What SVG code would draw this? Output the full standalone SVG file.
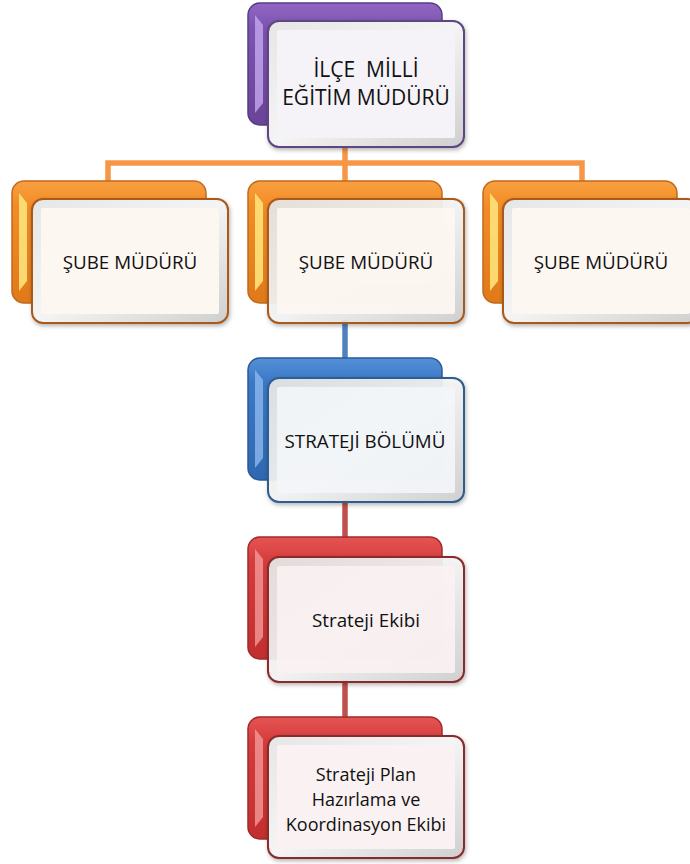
<svg xmlns="http://www.w3.org/2000/svg" width="690" height="864" viewBox="0 0 690 864">
<defs>
<style>
.lbl{font-family:"Open Sans","Liberation Sans",sans-serif;font-size:18.8px;fill:#111;text-anchor:middle;white-space:pre}
.big{font-size:21px}
.sm{font-size:18px}
.conn{fill:none;stroke-width:5.5;stroke-linejoin:miter}
.front-frame{fill:url(#gFrame);stroke-width:2}
.shadowed{filter:url(#sh)}
</style>
<filter id="sh" x="-10%" y="-10%" width="125%" height="130%">
<feDropShadow dx="1" dy="2" stdDeviation="2" flood-color="#000" flood-opacity="0.3"/>
</filter>
<linearGradient id="gFrame" x1="0" y1="0" x2="1" y2="1">
<stop offset="0" stop-color="#e6e6e6"/>
<stop offset="0.5" stop-color="#f4f4f4"/>
<stop offset="1" stop-color="#cfcfcf"/>
</linearGradient>
<linearGradient id="gPurple" x1="0" y1="0" x2="0" y2="1">
<stop offset="0" stop-color="#9068c2"/>
<stop offset="0.2" stop-color="#7c53b0"/>
<stop offset="1" stop-color="#6a4498"/>
</linearGradient>
<linearGradient id="gOrange" x1="0" y1="0" x2="0" y2="1">
<stop offset="0" stop-color="#f9a040"/>
<stop offset="0.2" stop-color="#f28c26"/>
<stop offset="1" stop-color="#e07a18"/>
</linearGradient>
<linearGradient id="gBlue" x1="0" y1="0" x2="0" y2="1">
<stop offset="0" stop-color="#5590d8"/>
<stop offset="0.2" stop-color="#3a78c6"/>
<stop offset="1" stop-color="#2f68b0"/>
</linearGradient>
<linearGradient id="gRed" x1="0" y1="0" x2="0" y2="1">
<stop offset="0" stop-color="#e55454"/>
<stop offset="0.2" stop-color="#d53c3c"/>
<stop offset="1" stop-color="#c22f2f"/>
</linearGradient>
</defs>

<g id="connectors">
<path class="conn" stroke="#f79646" d="M345,147 V163 M108,181 V163 H582 V181 M345,163 V181"/>
<path class="conn" stroke="#4f81bd" d="M345,320 V360"/>
<path class="conn" stroke="#c0504d" d="M345,500 V540 M345,680 V720"/>
</g>

<g id="n1" transform="translate(248,3)">
<rect x="0" y="0" width="194" height="122" rx="12" fill="url(#gPurple)" stroke="#5a3c86" stroke-width="1.5"/>
<polygon points="7,12 15,22 15,100 7,110" fill="#c4a8ee" opacity="0.8"/>
<g class="shadowed">
<rect class="front-frame" x="20" y="18" width="196" height="126" rx="11" stroke="#5e4482"/>
<rect x="29" y="27" width="178" height="108" rx="2" fill="#f5f3f8"/>
</g>
<text class="lbl big" x="118" y="74">İLÇE  MİLLİ</text>
<text class="lbl big" x="118" y="102">EĞİTİM MÜDÜRÜ</text>
</g>

<g id="n2" transform="translate(12,181)">
<rect x="0" y="0" width="194" height="122" rx="12" fill="url(#gOrange)" stroke="#c06a1e" stroke-width="1.5"/>
<polygon points="7,12 15,22 15,100 7,110" fill="#fde27a" opacity="0.9"/>
<g class="shadowed">
<rect class="front-frame" x="20" y="18" width="196" height="124" rx="11" stroke="#a85a1a"/>
<rect x="29" y="27" width="178" height="106" rx="2" fill="#fdf7f2"/>
</g>
<text class="lbl" x="118" y="88">ŞUBE MÜDÜRÜ</text>
</g>

<g id="n3" transform="translate(248,181)">
<rect x="0" y="0" width="194" height="122" rx="12" fill="url(#gOrange)" stroke="#c06a1e" stroke-width="1.5"/>
<polygon points="7,12 15,22 15,100 7,110" fill="#fde27a" opacity="0.9"/>
<g class="shadowed">
<rect class="front-frame" x="20" y="18" width="196" height="124" rx="11" stroke="#a85a1a" fill-opacity="0.92"/>
<rect x="29" y="27" width="178" height="106" rx="2" fill="#fdf7f2" fill-opacity="0.92"/>
</g>
<text class="lbl" x="118" y="88">ŞUBE MÜDÜRÜ</text>
</g>

<g id="n4" transform="translate(483,181)">
<rect x="0" y="0" width="194" height="122" rx="12" fill="url(#gOrange)" stroke="#c06a1e" stroke-width="1.5"/>
<polygon points="7,12 15,22 15,100 7,110" fill="#fde27a" opacity="0.9"/>
<g class="shadowed">
<rect class="front-frame" x="20" y="18" width="196" height="124" rx="11" stroke="#a85a1a"/>
<rect x="29" y="27" width="178" height="106" rx="2" fill="#fdf7f2"/>
</g>
<text class="lbl" x="118" y="88">ŞUBE MÜDÜRÜ</text>
</g>

<g id="n5" transform="translate(248,358)">
<rect x="0" y="0" width="194" height="122" rx="12" fill="url(#gBlue)" stroke="#2b5a97" stroke-width="1.5"/>
<polygon points="7,12 15,22 15,100 7,110" fill="#8fb8ee" opacity="0.8"/>
<g class="shadowed">
<rect class="front-frame" x="20" y="20" width="196" height="124" rx="11" stroke="#2e5d8f" fill-opacity="0.92"/>
<rect x="29" y="29" width="178" height="106" rx="2" fill="#f3f5f9" fill-opacity="0.92"/>
</g>
<text class="lbl" x="117" y="90">STRATEJİ BÖLÜMÜ</text>
</g>

<g id="n6" transform="translate(248,537)">
<rect x="0" y="0" width="194" height="122" rx="12" fill="url(#gRed)" stroke="#a02a2a" stroke-width="1.5"/>
<polygon points="7,12 15,22 15,100 7,110" fill="#f29a9a" opacity="0.8"/>
<g class="shadowed">
<rect class="front-frame" x="20" y="20" width="196" height="125" rx="11" stroke="#8a2c2c" fill-opacity="0.92"/>
<rect x="29" y="29" width="178" height="107" rx="2" fill="#faf1f2" fill-opacity="0.92"/>
</g>
<text class="lbl" x="118" y="90">Strateji Ekibi</text>
</g>

<g id="n7" transform="translate(248,717)">
<rect x="0" y="0" width="194" height="122" rx="12" fill="url(#gRed)" stroke="#a02a2a" stroke-width="1.5"/>
<polygon points="7,12 15,22 15,100 7,110" fill="#f29a9a" opacity="0.8"/>
<g class="shadowed">
<rect class="front-frame" x="20" y="19" width="196" height="122" rx="11" stroke="#8a2c2c"/>
<rect x="29" y="28" width="178" height="104" rx="2" fill="#faf1f2"/>
</g>
<text class="lbl sm" x="118" y="64">Strateji Plan</text>
<text class="lbl sm" x="118" y="89">Hazırlama ve</text>
<text class="lbl sm" x="118" y="114">Koordinasyon Ekibi</text>
</g>
</svg>
